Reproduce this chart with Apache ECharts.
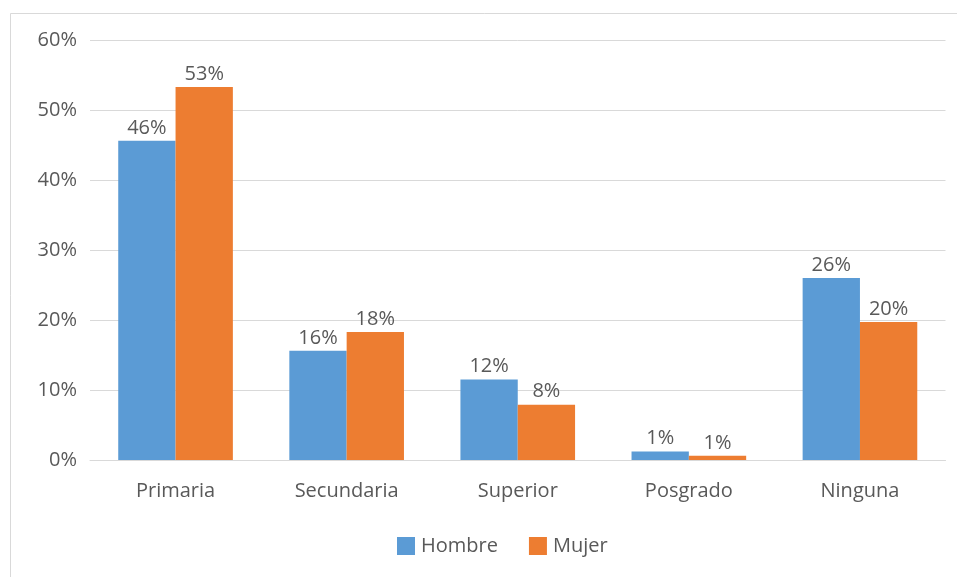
<!DOCTYPE html>
<html>
<head>
<meta charset="utf-8">
<script src="https://cdn.jsdelivr.net/npm/echarts@6/dist/echarts.min.js"></script>
<style>
  html, body { margin: 0; padding: 0; background: #ffffff; }
  #chart { width: 957px; height: 577px; }
</style>
</head>
<body>
<div id="chart"></div>
<script>
// Nivel educativo por sexo (porcentaje)
const categories = ['Primaria', 'Secundaria', 'Superior', 'Posgrado', 'Ninguna'];
const hombre = [45.6, 15.6, 11.5, 1.2, 26.0];
const mujer = [53.3, 18.3, 7.9, 0.6, 19.7];
const seriesNames = ['Hombre', 'Mujer'];
const yTicks = [0, 10, 20, 30, 40, 50, 60];

const FONT = '"Open Sans", sans-serif';
const TEXT = '#595959';
const SIZE = 20;

const chart = echarts.init(document.getElementById('chart'), null, { renderer: 'canvas' });

const labelOpt = {
  show: true,
  position: 'top',
  distance: 3,
  color: TEXT,
  fontFamily: FONT,
  fontSize: SIZE,
  formatter: p => Math.round(p.value) + '%'
};

chart.setOption({
  backgroundColor: '#ffffff',
  animation: false,
  graphic: [{
    type: 'rect',
    shape: { x: 10.5, y: 13.5, width: 960, height: 600 },
    style: { fill: 'none', stroke: '#d9d9d9', lineWidth: 1 },
    silent: true
  }],
  grid: { left: 90, right: 11.5, top: 40, bottom: 117, containLabel: false },
  legend: {
    data: seriesNames,
    left: 392,
    top: 531,
    itemWidth: 18,
    itemHeight: 18,
    itemGap: 31,
    icon: 'rect',
    textStyle: { color: TEXT, fontFamily: FONT, fontSize: SIZE, padding: [0, 0, 0, 1] }
  },
  xAxis: {
    type: 'category',
    data: categories,
    axisLine: { lineStyle: { color: '#d9d9d9', width: 1 } },
    axisTick: { show: false },
    axisLabel: { color: TEXT, fontFamily: FONT, fontSize: SIZE, margin: 21 }
  },
  yAxis: {
    type: 'value',
    min: yTicks[0],
    max: yTicks[yTicks.length - 1],
    interval: 10,
    axisLine: { show: false },
    axisTick: { show: false },
    splitLine: { lineStyle: { color: '#d9d9d9', width: 1 } },
    axisLabel: { color: TEXT, fontFamily: FONT, fontSize: SIZE, margin: 13, formatter: v => v + '%' }
  },
  series: [
    {
      name: seriesNames[0],
      type: 'bar',
      data: hombre,
      barGap: '0%',
      barCategoryGap: '33%',
      itemStyle: { color: '#5b9bd5' },
      label: labelOpt
    },
    {
      name: seriesNames[1],
      type: 'bar',
      data: mujer,
      barGap: '0%',
      barCategoryGap: '33%',
      itemStyle: { color: '#ed7d31' },
      label: labelOpt
    }
  ]
});
</script>
</body>
</html>
